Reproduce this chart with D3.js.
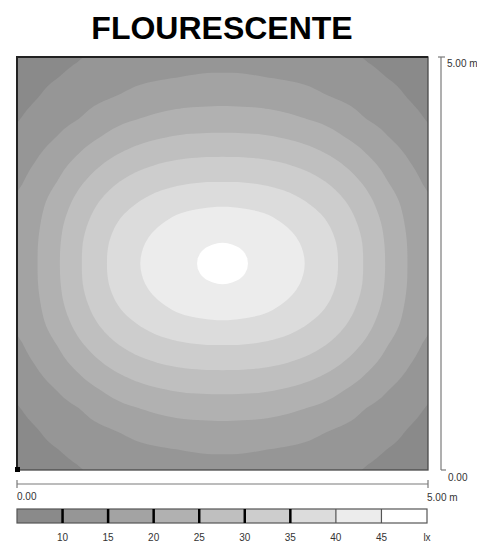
<!DOCTYPE html>
<html>
<head>
<meta charset="utf-8">
<script src="https://cdn.jsdelivr.net/npm/d3@7/dist/d3.min.js"></script>
<style>
  body { margin: 0; background: #fff; }
  svg { display: block; font-family: "Liberation Sans", Arial, sans-serif; }
</style>
</head>
<body>
<div id="chart"></div>
<script>
const levels = [10, 15, 20, 25, 30, 35, 40, 45];
const legendLabels = ["10", "15", "20", "25", "30", "35", "40", "45", "lx"];
const bandColors = ["#8a8a8a", "#969696", "#a3a3a3", "#b1b1b1", "#bfbfbf", "#cdcdcd", "#dcdcdc", "#ececec", "#ffffff"];
const roomSize = 5; // m
const gridStep = 0.25; // m

// lux, top-left quarter of the room (rows from the wall
// to the centre line, columns from the wall to the centre line). room is symmetric
const luxQuarter = [
  [7.3, 8.2, 9.0, 9.8, 10.7, 11.6, 12.4, 12.9, 13.3, 13.5, 13.6],
  [8.2, 9.1, 10.0, 11.3, 12.5, 13.4, 14.2, 14.7, 15.1, 15.5, 15.6],
  [9.0, 10.0, 11.7, 13.2, 14.4, 15.5, 16.8, 17.7, 18.3, 18.6, 18.7],
  [9.8, 11.6, 13.5, 15.0, 17.2, 18.9, 20.1, 21.2, 21.9, 22.2, 22.3],
  [11.0, 13.4, 15.5, 18.1, 20.3, 22.5, 24.1, 25.2, 26.0, 26.3, 26.4],
  [12.7, 15.2, 18.1, 20.9, 23.9, 26.3, 28.1, 29.4, 30.2, 30.6, 30.7],
  [14.2, 17.2, 20.1, 23.9, 27.2, 29.9, 31.9, 33.3, 34.2, 34.7, 34.8],
  [15.6, 18.6, 22.2, 26.4, 30.0, 32.9, 35.1, 36.8, 38.0, 38.7, 39.0],
  [16.6, 19.4, 23.7, 28.1, 32.0, 35.3, 37.7, 39.7, 41.4, 42.4, 42.8],
  [17.1, 19.9, 24.4, 29.1, 33.3, 36.7, 39.4, 41.7, 43.5, 44.6, 45.0],
  [17.2, 20.0, 24.6, 29.3, 33.6, 37.1, 40.0, 42.3, 44.1, 45.2, 45.6]
];

const width = 477, height = 543;
const svg = d3.select("#chart").append("svg").attr("width", width).attr("height", height);

const x = d3.scaleLinear().domain([0, roomSize]).range([17, 428]);
const y = d3.scaleLinear().domain([0, roomSize]).range([470, 57]);

// mirror the quarter to the whole room
const q = luxQuarter.length;
const n = q * 2 - 1;
const full = [];
for (let R = 0; R < n; R++) {
  const r = R < q ? R : n - 1 - R;
  const row = [];
  for (let C = 0; C < n; C++) {
    const c = C < q ? C : n - 1 - C;
    row.push(luxQuarter[r][c]);
  }
  full.push(row);
}

// resample a bit finer so the isolines come out round
const f = 4, m = (n - 1) * f + 1;
function cr(p0, p1, p2, p3, t) {
  return 0.5 * (2*p1 + (-p0 + p2)*t + (2*p0 - 5*p1 + 4*p2 - p3)*t*t + (-p0 + 3*p1 - 3*p2 + p3)*t*t*t);
}
function sample1(arr, t) {
  const k = Math.min(Math.floor(t), arr.length - 2), s = t - k;
  const g = i => arr[Math.max(0, Math.min(arr.length - 1, i))];
  return cr(g(k-1), g(k), g(k+1), g(k+2), s);
}
const rowsFine = full.map(row => d3.range(m).map(i => sample1(row, i / f)));
const values = new Array(m * m);
for (let j = 0; j < m; j++) {
  for (let i = 0; i < m; i++) {
    values[j * m + i] = sample1(rowsFine.map(r => r[i]), j / f);
  }
}

const contours = d3.contours().size([m, m]).thresholds(levels)(values);
const span = (n - 1) * gridStep;
const proj = d3.geoTransform({
  point: function(px, py) {
    this.stream.point(x((px - 0.5) / (m - 1) * span), y(roomSize - (py - 0.5) / (m - 1) * span));
  }
});
const path = d3.geoPath(proj);

svg.append("clipPath").attr("id", "room")
  .append("rect").attr("x", x(0)).attr("y", y(roomSize)).attr("width", x(roomSize) - x(0)).attr("height", y(0) - y(roomSize));

const plot = svg.append("g").attr("clip-path", "url(#room)");
plot.append("rect")
  .attr("x", x(0)).attr("y", y(roomSize)).attr("width", x(roomSize) - x(0)).attr("height", y(0) - y(roomSize))
  .attr("fill", bandColors[0]);
plot.selectAll("path.band")
  .data(contours)
  .enter().append("path")
  .attr("class", "band")
  .attr("d", path)
  .attr("fill", (d, i) => bandColors[i + 1]);

// room outline, darker on top and left
svg.append("rect")
  .attr("x", x(0)).attr("y", y(roomSize)).attr("width", x(roomSize) - x(0)).attr("height", y(0) - y(roomSize))
  .attr("fill", "none").attr("stroke", "#4a4a4a").attr("stroke-width", 1.3);
svg.append("path")
  .attr("d", `M${x(0)},${y(0)}V${y(roomSize)}H${x(roomSize)}`)
  .attr("fill", "none").attr("stroke", "#222").attr("stroke-width", 2);
svg.append("rect").attr("x", x(0) - 2).attr("y", y(0) - 3).attr("width", 5).attr("height", 5).attr("fill", "#000");

// title
svg.append("text")
  .attr("x", 222).attr("y", 39)
  .attr("text-anchor", "middle")
  .style("font-size", "32px").style("font-weight", "bold").style("fill", "#000")
  .text("FLOURESCENTE");

// dimension lines
const dim = svg.append("g").attr("stroke", "#7a7a7a").attr("stroke-width", 1.2);
dim.append("line").attr("x1", 441).attr("x2", 441).attr("y1", y(roomSize)).attr("y2", y(0));
dim.append("line").attr("x1", 438).attr("x2", 445).attr("y1", y(roomSize)).attr("y2", y(roomSize));
dim.append("line").attr("x1", 441).attr("x2", 446).attr("y1", y(0)).attr("y2", y(0));
dim.append("line").attr("x1", x(0)).attr("x2", x(roomSize)).attr("y1", 484).attr("y2", 484);
dim.append("line").attr("x1", x(0)).attr("x2", x(0)).attr("y1", 480).attr("y2", 488);
dim.append("line").attr("x1", x(roomSize)).attr("x2", x(roomSize)).attr("y1", 480).attr("y2", 488);

const lab = svg.append("g").style("font-size", "10px").style("fill", "#333");
lab.append("text").attr("x", 447).attr("y", 67).text(d3.format(".2f")(roomSize) + " m");
lab.append("text").attr("x", 448).attr("y", 481).text(d3.format(".2f")(0));
lab.append("text").attr("x", x(0)).attr("y", 500).text(d3.format(".2f")(0));
lab.append("text").attr("x", x(roomSize) - 1).attr("y", 501).text(d3.format(".2f")(roomSize) + " m");

// legend
const lx = d3.scaleLinear().domain([0, bandColors.length]).range([17, 427]);
const leg = svg.append("g");
leg.selectAll("rect").data(bandColors).enter().append("rect")
  .attr("x", (d, i) => lx(i)).attr("y", 509).attr("width", lx(1) - lx(0)).attr("height", 14)
  .attr("fill", d => d);
leg.append("rect").attr("x", lx(0)).attr("y", 509).attr("width", lx(bandColors.length) - lx(0)).attr("height", 14)
  .attr("fill", "none").attr("stroke", "#555").attr("stroke-width", 1.2);
leg.selectAll("line").data(levels).enter().append("line")
  .attr("x1", (d, i) => lx(i + 1)).attr("x2", (d, i) => lx(i + 1))
  .attr("y1", 509).attr("y2", 523)
  .attr("stroke", (d, i) => i < 6 ? "#000" : "#555")
  .attr("stroke-width", (d, i) => i < 6 ? 2.5 : 1.2);
leg.selectAll("text").data(legendLabels).enter().append("text")
  .attr("x", (d, i) => lx(i + 1)).attr("y", 541)
  .attr("text-anchor", "middle")
  .style("font-size", "10px").style("fill", "#333")
  .text(d => d);
</script>
</body>
</html>
